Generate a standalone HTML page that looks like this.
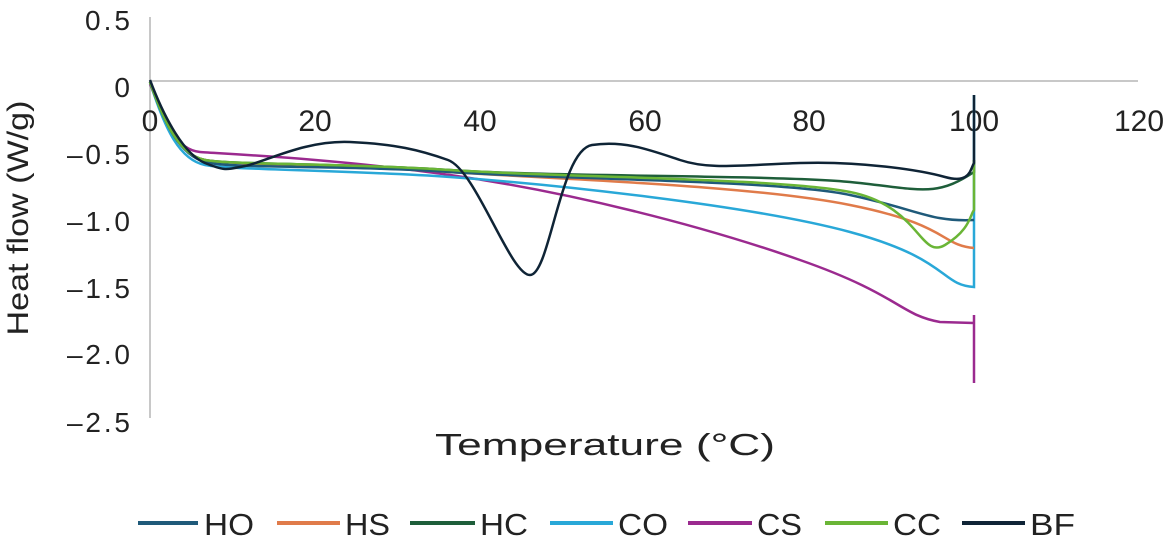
<!DOCTYPE html>
<html><head><style>body{margin:0;background:#fff}</style></head><body>
<svg width="1165" height="548" xmlns="http://www.w3.org/2000/svg" font-family="Liberation Sans, sans-serif" fill="none">
<line x1="150" y1="17" x2="150" y2="418" stroke="#c8c8c8" stroke-width="2"/>
<line x1="150" y1="81" x2="1138" y2="81" stroke="#c8c8c8" stroke-width="2"/>
<g fill="#222" font-size="28" text-anchor="end" stroke="none">
<text x="130" y="30" textLength="45">0.5</text><text x="130" y="97">0</text><text x="130" y="164" textLength="63">–0.5</text>
<text x="130" y="231" textLength="63">–1.0</text><text x="130" y="298" textLength="63">–1.5</text><text x="130" y="364" textLength="63">–2.0</text><text x="130" y="432" textLength="63">–2.5</text>
</g>
<g fill="#222" font-size="30" text-anchor="middle" stroke="none">
<text x="150" y="131">0</text><text x="315" y="131">20</text><text x="480" y="131">40</text><text x="645" y="131">60</text>
<text x="809" y="131">80</text><text x="974" y="131">100</text><text x="1139" y="131">120</text>
</g>
<g fill="#222" stroke="none">
<text x="435" y="455" font-size="31" textLength="340" lengthAdjust="spacingAndGlyphs">Temperature (°C)</text>
<text transform="translate(28,218) rotate(-90)" font-size="30" text-anchor="middle" textLength="235" lengthAdjust="spacingAndGlyphs">Heat flow (W/g)</text>
</g>
<g stroke-width="2.5">
<path d="M150,84 C165,120 175,150 200,152 S330,158 450,175 S700,225 800,260 S900,315 940,322 L974,323 M974,315 V383" stroke="#9b2a8f"/>
<path d="M150,82 C165,130 180,160 205,165 S350,170 450,177 S750,205 850,232 S940,285 974,287 V95" stroke="#29a8d8"/>
<path d="M150,82 C165,125 180,155 205,160 S350,165 450,172 S750,185 850,205 S940,245 974,248" stroke="#e07b4a"/>
<path d="M150,82 C165,125 180,155 205,162 S350,165 450,172 S780,180 850,195 S930,222 974,220" stroke="#1f5a7a"/>
<path d="M150,82 C165,125 180,155 205,160 S350,163 450,170 S780,175 850,182 S935,198 974,172 V160" stroke="#1e5e3a"/>
<path d="M150,82 C165,125 180,155 205,160 S350,163 450,170 S780,178 850,192 S920,260 945,245 S970,215 974,210 V160" stroke="#6ab536"/>
<path d="M150,80 C165,120 185,155 205,163 S225,170 245,166 S305,140 350,142 S420,150 448,160 S510,275 530,275 S560,150 592,145 S650,150 680,160 S740,165 800,163 S920,170 945,177 S970,170 974,163 V95" stroke="#0f2436"/>
</g>
<g stroke-width="4">
<line x1="138" y1="523" x2="198" y2="523" stroke="#1f5a7a"/>
<line x1="277" y1="523" x2="340" y2="523" stroke="#e07b4a"/>
<line x1="410" y1="523" x2="475" y2="523" stroke="#1e5e3a"/>
<line x1="550" y1="523" x2="613" y2="523" stroke="#29a8d8"/>
<line x1="688" y1="523" x2="752" y2="523" stroke="#9b2a8f"/>
<line x1="825" y1="523" x2="888" y2="523" stroke="#6ab536"/>
<line x1="962" y1="523" x2="1025" y2="523" stroke="#0f2436"/>
</g>
<g fill="#222" font-size="31" stroke="none">
<text x="204" y="535" textLength="50" lengthAdjust="spacingAndGlyphs">HO</text>
<text x="345" y="535" textLength="45" lengthAdjust="spacingAndGlyphs">HS</text>
<text x="480" y="535" textLength="48" lengthAdjust="spacingAndGlyphs">HC</text>
<text x="618" y="535" textLength="50" lengthAdjust="spacingAndGlyphs">CO</text>
<text x="757" y="535" textLength="45" lengthAdjust="spacingAndGlyphs">CS</text>
<text x="893" y="535" textLength="48" lengthAdjust="spacingAndGlyphs">CC</text>
<text x="1030" y="535" textLength="45" lengthAdjust="spacingAndGlyphs">BF</text>
</g>
</svg>
</body></html>
